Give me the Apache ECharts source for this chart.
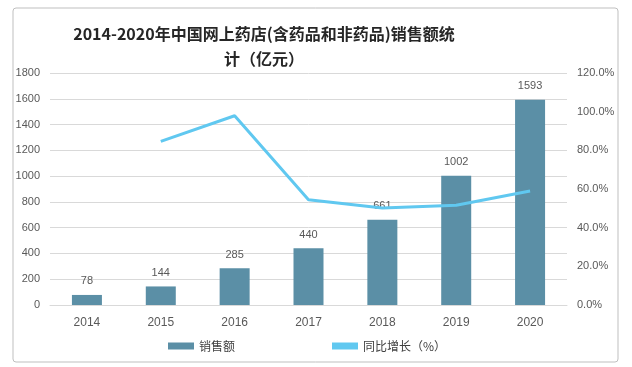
<!DOCTYPE html>
<html><head><meta charset="utf-8">
<script src="https://cdn.jsdelivr.net/npm/echarts@6/dist/echarts.min.js"></script>
<style>html,body{margin:0;padding:0;background:#fff}#c{width:632px;height:367px}</style>
</head><body><div id="c"></div>
<script>
const categories = ['2014','2015','2016','2017','2018','2019','2020'];
const salesValues = [78, 144, 285, 440, 661, 1002, 1593];
const growthValues = [null, 84.6, 97.9, 54.4, 50.2, 51.6, 59.0];
const leftTicks = [0, 1800, 200];
const rightTicks = [0, 120, 20];
const titleText = '2014-2020年中国网上药店(含药品和非药品)销售额统\n计（亿元）';

const chart = echarts.init(document.getElementById('c'), null, {renderer:'canvas'});
const axisLabelColor = '#595959';
chart.setOption({
  animation: false,
  backgroundColor: '#fff',
  graphic: [{
    type: 'rect', shape: {x: 13, y: 8, width: 605, height: 354, r: 3},
    style: {fill: 'none', stroke: '#bfbfbf', lineWidth: 1}, z: -1
  }],
  title: {
    text: titleText,
    left: 259, top: 16, padding: 5, textAlign: 'center',
    textStyle: {fontSize: 16, fontWeight: 'bold', color: '#262626', lineHeight: 25,
      fontFamily: '"Noto Sans CJK SC", "Liberation Sans", sans-serif'}
  },
  legend: {
    top: 335, left: 163, itemGap: 97, itemWidth: 26, itemHeight: 7,
    textStyle: {fontSize: 12, color: '#404040', fontFamily: '"Noto Sans CJK SC", sans-serif'},
    data: [{name: '销售额', icon: 'rect'}, {name: '同比增长（%）', icon: 'rect', itemStyle: {color: '#60c8f0'}}]
  },
  grid: {left: 50, right: 65, top: 73, bottom: 62, containLabel: false},
  xAxis: {
    type: 'category', data: categories,
    axisLine: {lineStyle: {color: '#d9d9d9'}}, axisTick: {show: false},
    axisLabel: {color: axisLabelColor, fontSize: 12, margin: 12, fontFamily: '"Liberation Sans", sans-serif'}
  },
  yAxis: [{
    type: 'value', min: leftTicks[0], max: leftTicks[1], interval: leftTicks[2],
    axisLine: {show: false}, axisTick: {show: false},
    splitLine: {lineStyle: {color: '#d9d9d9'}},
    axisLabel: {color: axisLabelColor, fontSize: 11, margin: 10, formatter: v => String(v),
      fontFamily: '"Liberation Sans", sans-serif'}
  }, {
    type: 'value', min: rightTicks[0], max: rightTicks[1], interval: rightTicks[2],
    axisLine: {show: false}, axisTick: {show: false}, splitLine: {show: false},
    axisLabel: {color: axisLabelColor, fontSize: 11, margin: 10, formatter: v => v.toFixed(1) + '%',
      fontFamily: '"Liberation Sans", sans-serif'}
  }],
  series: [{
    name: '销售额', type: 'bar', data: salesValues, barWidth: 30,
    itemStyle: {color: '#5b8fa6'},
    label: {show: true, position: 'top', color: axisLabelColor, fontSize: 11, distance: 8,
      fontFamily: '"Liberation Sans", sans-serif'}
  }, {
    name: '同比增长（%）', type: 'line', yAxisIndex: 1, data: growthValues,
    showSymbol: false, symbol: 'none', lineStyle: {color: '#60c8f0', width: 3},
    itemStyle: {color: '#60c8f0'}, z: 3
  }]
});
</script></body></html>
